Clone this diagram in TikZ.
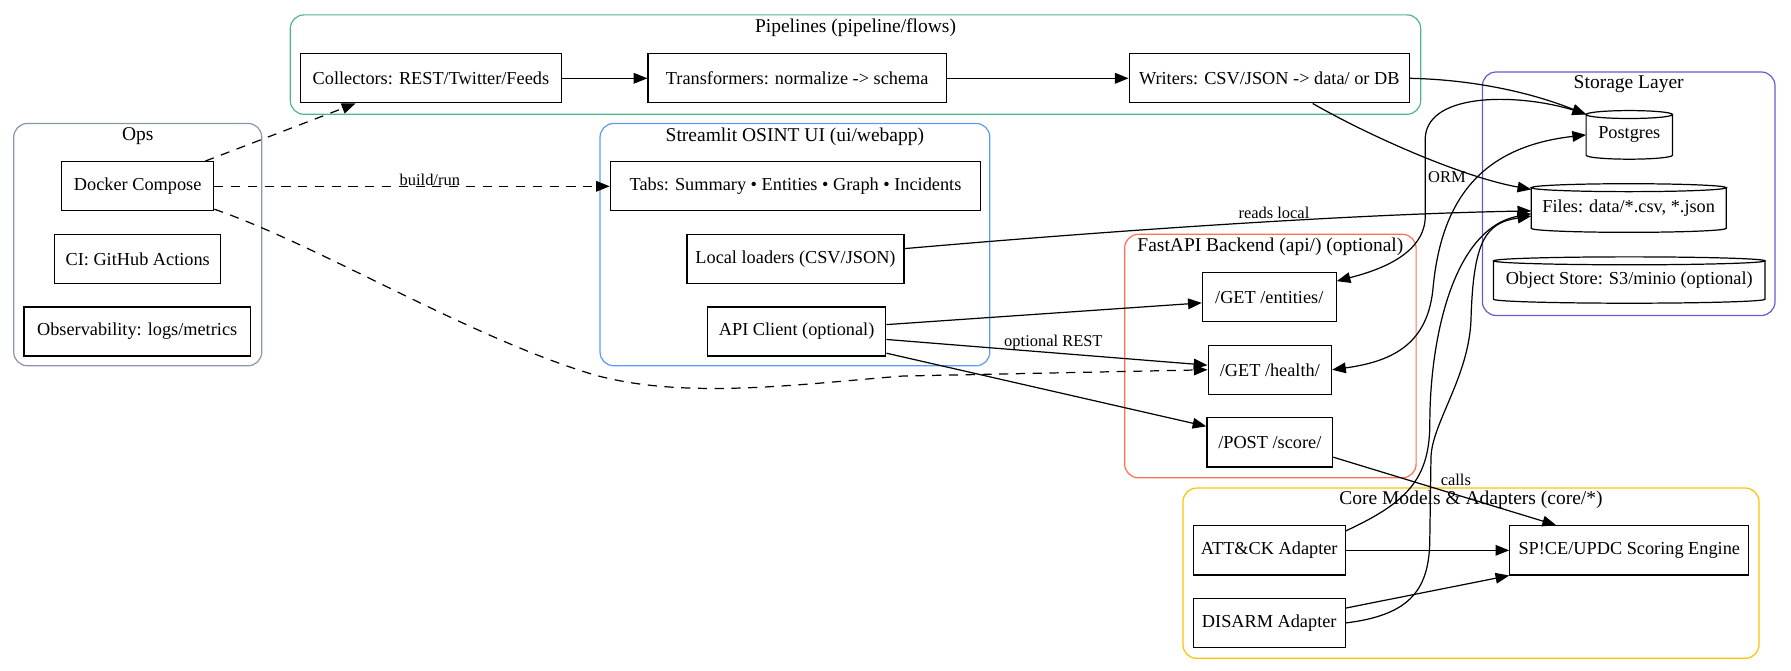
\documentclass[tikz,border=0pt]{standalone}
\usepackage{fontspec}
\setmainfont{Liberation Serif}
\usetikzlibrary{arrows.meta,calc}
\definecolor{pipegreen}{RGB}{82,183,136}
\definecolor{opsgray}{RGB}{140,150,170}
\definecolor{uiblue}{RGB}{91,155,240}
\definecolor{apiorange}{RGB}{255,112,80}
\definecolor{storepurple}{RGB}{106,90,205}
\definecolor{coreyellow}{RGB}{255,193,7}
\begin{document}
\begin{tikzpicture}[x=0.75pt,y=-0.75pt,>={Triangle[length=9pt,width=7pt]},
  box/.style={draw,line width=0.8pt,minimum height=32.25pt,inner sep=0pt,font=\fontsize{12}{14}\selectfont},
  store/.style={minimum height=31.5pt,inner sep=0pt,font=\fontsize{12}{14}\selectfont},
  cluster/.style={line width=0.8pt,rounded corners=9pt},
  ctitle/.style={inner sep=0pt,font=\fontsize{12.8}{15}\selectfont},
  lbl/.style={inner sep=1.5pt,font=\fontsize{10.8}{12}\selectfont},
  conn/.style={line width=0.8pt},
  dsh/.style={line width=0.8pt,dash pattern=on 6pt off 5pt}]
\useasboundingbox (0,0) rectangle (1567,587);

\draw [cluster,pipegreen] (254,13) rectangle (1243,100);
\draw [cluster,opsgray] (12,108) rectangle (229,320);
\draw [cluster,uiblue] (525,108) rectangle (866,320);
\draw [cluster,apiorange] (984,205) rectangle (1239,418);
\draw [cluster,storepurple] (1297,63) rectangle (1553,276);
\draw [cluster,coreyellow] (1035,427) rectangle (1539,576);

\node [ctitle] (tpipe) at (748.5,24) {Pipelines (pipeline/flows)};
\node [ctitle] (tops) at (120.5,119) {Ops};
\node [ctitle] (tui) at (695.5,120) {Streamlit OSINT UI (ui/webapp)};
\node [ctitle] (tapi) at (1111.5,216) {FastAPI Backend (api/) (optional)};
\node [ctitle] (tstore) at (1425,74) {Storage Layer};
\node [ctitle] (tcore) at (1287,437) {Core Models \& Adapters (core/*)};

\node [box,minimum width=171pt] (col) at (377,68.5) {Collectors: REST/Twitter/Feeds};
\node [box,minimum width=195.75pt] (tr) at (697.5,68.5) {Transformers: normalize -> schema};
\node [box,minimum width=183.75pt] (wr) at (1110.5,68.5) {Writers: CSV/JSON -> data/ or DB};

\node [box,minimum width=99.75pt] (dk) at (120.5,163) {Docker Compose};
\node [box,minimum width=108.75pt] (ci) at (120.5,226.5) {CI: GitHub Actions};
\node [box,minimum width=148.5pt] (obs) at (120,290) {Observability: logs/metrics};

\node [box,minimum width=243pt] (tabs) at (696,163) {Tabs: Summary • Entities • Graph • Incidents};
\node [box,minimum width=142.5pt] (ld) at (696,226.5) {Local loaders (CSV/JSON)};
\node [box,minimum width=117pt] (api) at (697,290) {API Client (optional)};

\node [box,minimum width=87.75pt] (ent) at (1110.5,260) {/GET /entities/};
\node [box,minimum width=81pt] (hl) at (1111,323.5) {/GET /health/};
\node [box,minimum width=82.5pt] (sc) at (1111,387) {/POST /score/};

\node [box,minimum width=99.75pt] (att) at (1110.5,481.5) {ATT\&CK Adapter};
\node [box,minimum width=99.75pt] (dis) at (1110.5,545) {DISARM Adapter};
\node [box,minimum width=156.75pt] (sp) at (1425.5,481.5) {SP!CE/UPDC Scoring Engine};

\node [store,minimum width=56.25pt] (pg) at (1425.5,118) {Postgres};
\node [store,minimum width=127.5pt] (fl) at (1425,182) {Files: data/*.csv, *.json};
\node [store,minimum width=177.75pt,minimum height=30pt] (obj) at (1425.5,245) {Object Store: S3/minio (optional)};

\foreach \s in {pg,fl,obj}
  \draw [line width=0.8pt] let \p1=(\s.north west), \p2=(\s.south east), \n1={(\x2-\x1)/2} in
    (\x1,\y1-2.6pt) -- (\x1,\y2+2.6pt) arc[start angle=180,end angle=360,x radius=\n1,y radius=2.6pt] -- (\x2,\y1-2.6pt)
    (\x1+\n1,\y1-2.6pt) ellipse[x radius=\n1,y radius=2.6pt];

\draw [conn,->] (col) -- (tr);
\draw [conn,->] (tr) -- (wr);
\draw [conn,->] (wr.east) .. controls (1300,70) and (1350,85) .. ($(pg.north west)+(0,3.5)$);
\draw [conn,->] ($(wr.south)+(38,0)$) .. controls (1200,120) and (1280,155) .. ($(fl.north west)+(0,5)$);

\draw [dsh,->] ($(dk.north east)+(-8,0)$) -- ($(col.south)+(-66,0)$);
\draw [dsh,->] (dk) -- node[lbl,above=-1.5pt,pos=0.545] {build/run} (tabs);
\draw [dsh,->] ($(dk.south east)+(0,-2)$) .. controls (280,215) and (410,295) .. (520,328) .. controls (600,350) and (700,336) .. (790,329) -- (hl.west);

\draw [conn,->] ($(ld.east)+(0,-9)$) .. controls (900,208) and (1150,188) .. node[lbl,above,pos=0.63] {reads local} ($(fl.west)+(0,2.5)$);
\draw [conn,->] ($(api.east)+(0,-6)$) -- ($(ent.west)+(0,5)$);
\draw [conn,->] ($(api.east)+(0,7)$) -- node[lbl,above,pos=0.52] {optional REST} ($(hl.west)+(0,-4)$);
\draw [conn,->] ($(api.east)+(0,19)$) -- ($(sc.west)+(0,-14)$);

\draw [conn,<->] ($(pg.north west)+(0,3)$) .. controls (1330,82) and (1250,80) .. (1247,120) -- node[lbl,right] {ORM} (1247,190) .. controls (1246,225) and (1200,238) .. ($(ent.north east)+(0,8)$);
\draw [conn,<->] (pg.west) .. controls (1300,128) and (1262,170) .. (1254,250) .. controls (1250,300) and (1220,316) .. (hl.east);
\draw [conn,->] ($(att.north east)+(0,5)$) .. controls (1230,440) and (1251,420) .. (1251,370) .. controls (1251,300) and (1270,200) .. ($(fl.west)+(0,5)$);
\draw [conn,->] (dis.east) .. controls (1235,538) and (1251,515) .. (1251,470) -- (1252,400) .. controls (1253,370) and (1285,330) .. (1287,280) .. controls (1289,210) and (1300,195) .. ($(fl.west)+(0,7)$);

\draw [conn,->] ($(sc.east)+(0,13)$) -- node[lbl,above=4pt,pos=0.55] {calls} ($(sp.north)+(-64,0)$);
\draw [conn,->] (att) -- (sp);
\draw [conn,->] ($(dis.east)+(0,-13)$) -- (sp.south west);

\end{tikzpicture}
\end{document}
